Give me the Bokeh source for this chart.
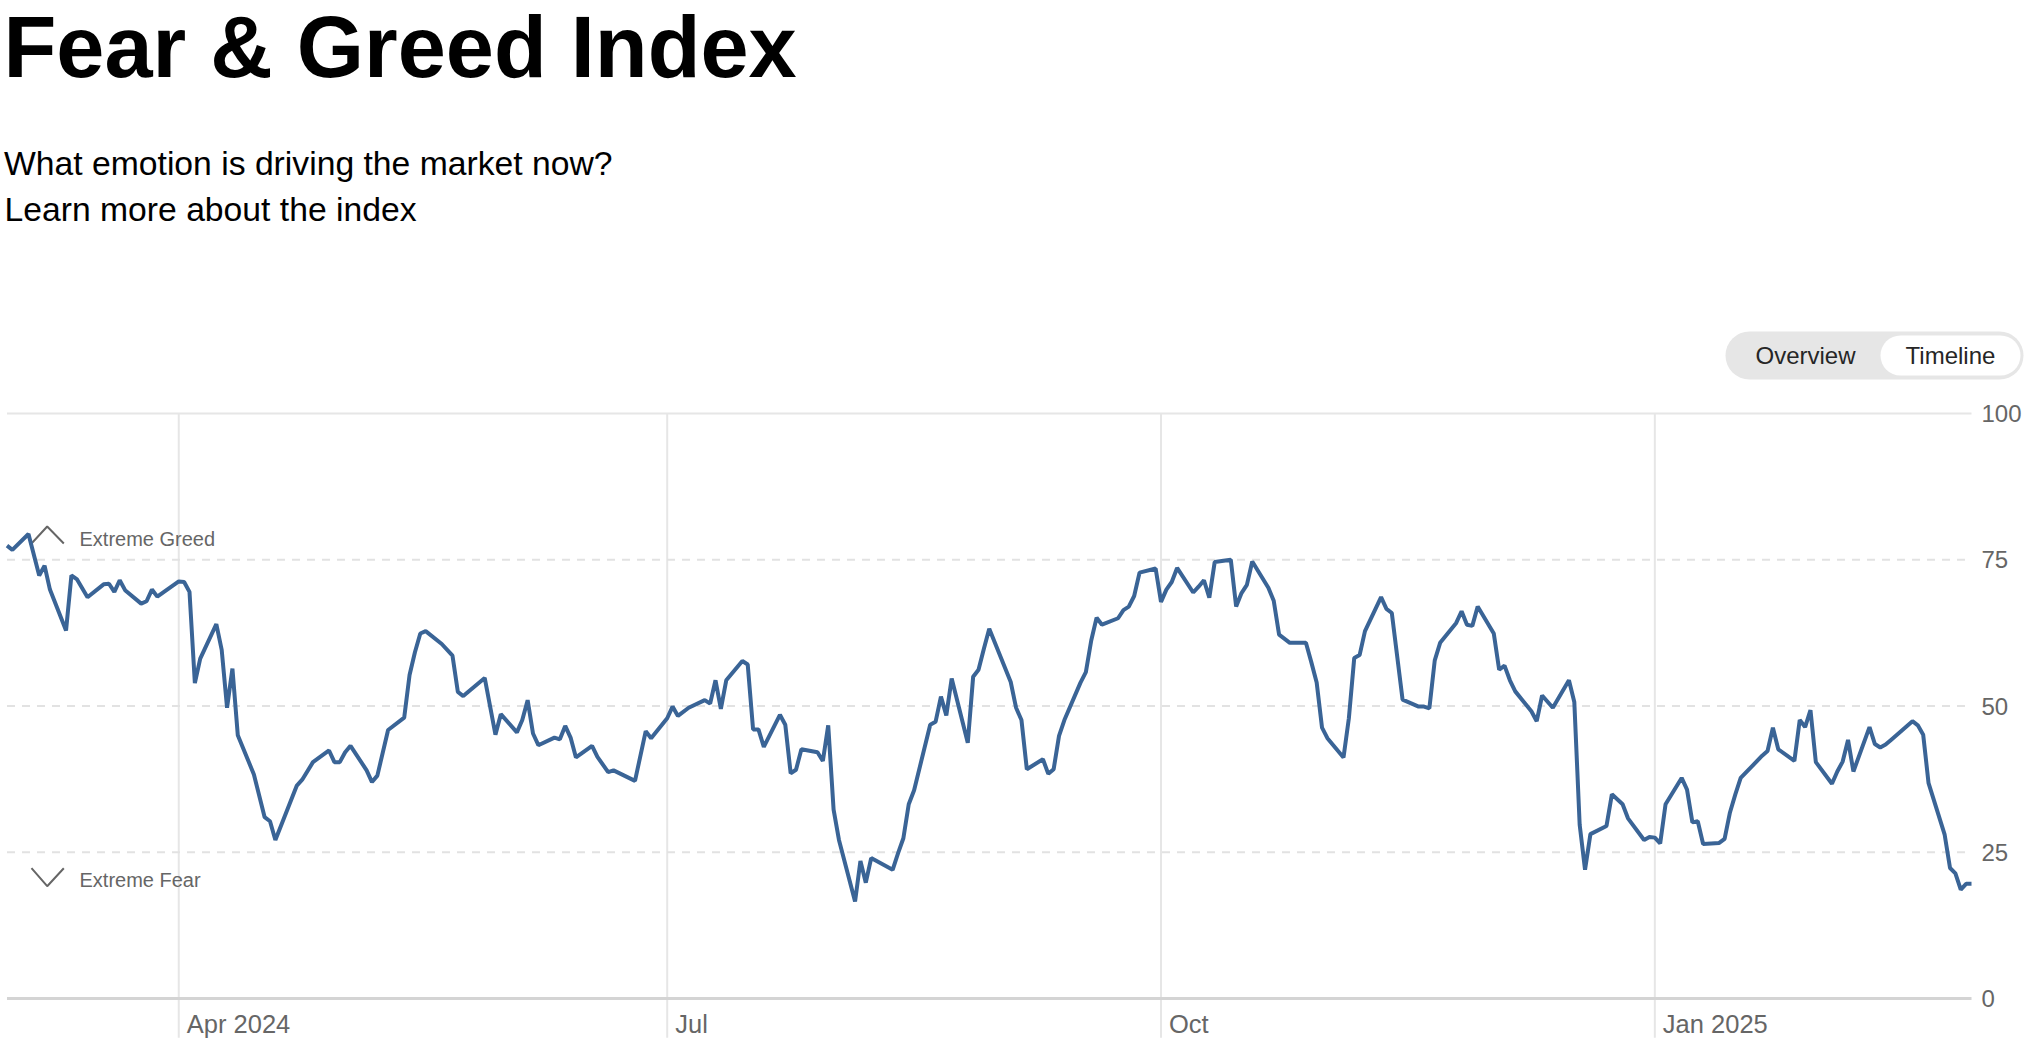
import numpy as np
from bokeh.plotting import figure
from bokeh.models import Range1d, FixedTicker, ColumnDataSource
from bokeh.core.properties import value
from bokeh.embed import file_html
from bokeh.resources import INLINE

# ---------------- data ----------------
dates = [
    "2024-02-29", "2024-03-01", "2024-03-04", "2024-03-06", "2024-03-07", "2024-03-08",
    "2024-03-11", "2024-03-12", "2024-03-13", "2024-03-15", "2024-03-18", "2024-03-19",
    "2024-03-20", "2024-03-21", "2024-03-22", "2024-03-25", "2024-03-26", "2024-03-27",
    "2024-03-28", "2024-04-01", "2024-04-02", "2024-04-03", "2024-04-04", "2024-04-05",
    "2024-04-08", "2024-04-09", "2024-04-10", "2024-04-11", "2024-04-12", "2024-04-15",
    "2024-04-17", "2024-04-18", "2024-04-19", "2024-04-23", "2024-04-24", "2024-04-26",
    "2024-04-29", "2024-04-30", "2024-05-01", "2024-05-02", "2024-05-03", "2024-05-06",
    "2024-05-07", "2024-05-08", "2024-05-10", "2024-05-13", "2024-05-14", "2024-05-15",
    "2024-05-16", "2024-05-17", "2024-05-20", "2024-05-22", "2024-05-23", "2024-05-24",
    "2024-05-28", "2024-05-30", "2024-05-31", "2024-06-03", "2024-06-04", "2024-06-05",
    "2024-06-06", "2024-06-07", "2024-06-10", "2024-06-11", "2024-06-12", "2024-06-13",
    "2024-06-14", "2024-06-17", "2024-06-18", "2024-06-20", "2024-06-21", "2024-06-25",
    "2024-06-27", "2024-06-28", "2024-07-01", "2024-07-02", "2024-07-03", "2024-07-05",
    "2024-07-08", "2024-07-09", "2024-07-10", "2024-07-11", "2024-07-12", "2024-07-15",
    "2024-07-16", "2024-07-17", "2024-07-18", "2024-07-19", "2024-07-22", "2024-07-23",
    "2024-07-24", "2024-07-25", "2024-07-26", "2024-07-29", "2024-07-30", "2024-07-31",
    "2024-08-01", "2024-08-02", "2024-08-05", "2024-08-06", "2024-08-07", "2024-08-08",
    "2024-08-12", "2024-08-13", "2024-08-14", "2024-08-15", "2024-08-16", "2024-08-19",
    "2024-08-20", "2024-08-21", "2024-08-22", "2024-08-23", "2024-08-26", "2024-08-27",
    "2024-08-28", "2024-08-29", "2024-08-30", "2024-09-03", "2024-09-04", "2024-09-05",
    "2024-09-06", "2024-09-09", "2024-09-10", "2024-09-11", "2024-09-12", "2024-09-13",
    "2024-09-16", "2024-09-17", "2024-09-18", "2024-09-19", "2024-09-20", "2024-09-23",
    "2024-09-24", "2024-09-25", "2024-09-26", "2024-09-27", "2024-09-30", "2024-10-01",
    "2024-10-02", "2024-10-03", "2024-10-04", "2024-10-07", "2024-10-08", "2024-10-09",
    "2024-10-10", "2024-10-11", "2024-10-14", "2024-10-15", "2024-10-16", "2024-10-17",
    "2024-10-18", "2024-10-21", "2024-10-22", "2024-10-23", "2024-10-25", "2024-10-28",
    "2024-10-29", "2024-10-30", "2024-10-31", "2024-11-01", "2024-11-04", "2024-11-05",
    "2024-11-06", "2024-11-07", "2024-11-08", "2024-11-11", "2024-11-12", "2024-11-13",
    "2024-11-15", "2024-11-18", "2024-11-19", "2024-11-20", "2024-11-21", "2024-11-22",
    "2024-11-25", "2024-11-26", "2024-11-27", "2024-11-28", "2024-11-29", "2024-12-02",
    "2024-12-03", "2024-12-04", "2024-12-05", "2024-12-06", "2024-12-09", "2024-12-10",
    "2024-12-11", "2024-12-13", "2024-12-16", "2024-12-17", "2024-12-18", "2024-12-19",
    "2024-12-20", "2024-12-23", "2024-12-24", "2024-12-26", "2024-12-27", "2024-12-30",
    "2024-12-31", "2025-01-01", "2025-01-02", "2025-01-03", "2025-01-06", "2025-01-07",
    "2025-01-08", "2025-01-09", "2025-01-10", "2025-01-13", "2025-01-14", "2025-01-15",
    "2025-01-16", "2025-01-17", "2025-01-21", "2025-01-22", "2025-01-23", "2025-01-24",
    "2025-01-27", "2025-01-28", "2025-01-29", "2025-01-30", "2025-01-31", "2025-02-03",
    "2025-02-04", "2025-02-05", "2025-02-06", "2025-02-07", "2025-02-10", "2025-02-11",
    "2025-02-12", "2025-02-13", "2025-02-14", "2025-02-18", "2025-02-19", "2025-02-20",
    "2025-02-21", "2025-02-24", "2025-02-25", "2025-02-26", "2025-02-27", "2025-02-28",
    "2025-03-01",
]
index_values = [
    77.4, 76.7, 79.4, 72.3, 74.0, 69.9,
    62.9, 72.3, 71.7, 68.6, 70.8, 70.9,
    69.5, 71.5, 69.8, 67.5, 67.9, 69.9,
    68.7, 71.3, 71.2, 69.5, 53.9, 58.1,
    64.0, 59.6, 49.7, 56.4, 45.0, 38.3,
    31.0, 30.3, 27.1, 36.4, 37.4, 40.4,
    42.4, 40.4, 40.4, 42.1, 43.2, 39.0,
    37.0, 38.1, 45.9, 48.0, 55.3, 59.2,
    62.4, 62.8, 60.6, 58.6, 52.4, 51.7,
    54.8, 45.1, 48.6, 45.5, 47.6, 51.0,
    45.3, 43.3, 44.6, 44.3, 46.6, 44.6,
    41.2, 43.2, 41.3, 38.7, 39.0, 37.2,
    45.7, 44.5, 47.9, 49.9, 48.3, 49.7,
    51.0, 50.4, 54.4, 49.5, 54.4, 57.7,
    57.1, 46.0, 46.0, 43.0, 48.5, 46.8,
    38.5, 39.1, 42.6, 42.1, 40.6, 46.7,
    32.3, 27.1, 16.6, 23.5, 19.8, 24.0,
    22.0, 24.8, 27.4, 33.2, 35.6, 46.8,
    47.3, 51.6, 48.4, 54.7, 43.7, 55.0,
    56.2, 59.8, 63.2, 54.1, 49.7, 47.6,
    39.2, 40.9, 38.4, 39.2, 44.9, 47.6,
    54.0, 55.8, 61.2, 65.1, 63.9, 65.0,
    66.4, 67.0, 68.8, 72.8, 73.5, 67.8,
    69.9, 71.2, 73.6, 69.4, 70.4, 71.5,
    68.5, 74.6, 75.0, 67.0, 69.3, 70.7,
    74.7, 70.2, 68.0, 62.2, 60.8, 60.8,
    57.5, 54.0, 46.3, 44.5, 41.2, 47.9,
    58.2, 58.7, 62.8, 68.6, 66.6, 65.9,
    51.1, 49.9, 49.9, 49.6, 57.8, 60.8,
    64.2, 66.2, 63.9, 63.7, 67.0, 62.4,
    56.2, 56.9, 54.4, 52.5, 49.1, 47.4,
    51.8, 49.7, 54.4, 50.7, 29.7, 22.0,
    28.1, 29.5, 34.9, 33.2, 30.8, 27.1,
    27.6, 27.5, 26.5, 33.2, 37.7, 35.7,
    30.1, 30.3, 26.4, 26.6, 27.3, 31.8,
    34.9, 37.7, 41.5, 42.3, 46.3, 42.6,
    40.6, 47.6, 46.4, 49.3, 40.4, 36.7,
    38.8, 40.5, 44.2, 38.8, 46.4, 43.5,
    42.9, 43.4, 44.2, 47.4, 46.7, 45.1,
    36.8, 28.0, 22.3, 21.4, 18.6, 19.6,
    19.6,
]
tick_dates = ["2024-04-01", "2024-07-01", "2024-10-01", "2025-01-01"]
tick_labels = ["Apr 2024", "Jul", "Oct", "Jan 2025"]
y_ticks = [0, 25, 50, 75, 100]
grid_levels = [25, 50, 75]
zone_labels = ["Extreme Greed", "Extreme Fear"]

title_text = "Fear & Greed Index"
subtitle_lines = ["What emotion is driving the market now?", "Learn more about the index"]
toggle_labels = ["Overview", "Timeline"]

# ---------------- layout constants (page pixels) ----------------
W, H = 2032, 1044
CHART_LEFT, CHART_RIGHT = 6.5, 1971.0     # first / last date positions
Y100_PX, Y0_PX = 413.0, 998.0             # pixel rows of 100 and 0
FONT = "Liberation Sans"
LINE_BLUE = "#3a6496"
GRAY_TXT = "#666666"
GRID = "#e6e6e6"

def to_ms(seq):
    return np.array(seq, dtype="datetime64[ms]").astype("int64").astype(float)

x = to_ms(dates)
tick_ms = to_ms(tick_dates)
x_first, x_last = x[0], x[-1]

ms_per_px = (x_last - x_first) / (CHART_RIGHT - CHART_LEFT)
u_per_px = 100.0 / (Y0_PX - Y100_PX)
x_range = Range1d(x_first - CHART_LEFT * ms_per_px, x_first + (W - CHART_LEFT) * ms_per_px)
y_range = Range1d(-(H - Y0_PX) * u_per_px, 100 + Y100_PX * u_per_px)

p = figure(width=W, height=H, x_range=x_range, y_range=y_range,
           output_backend="svg", toolbar_location=None,
           x_axis_location=None, y_axis_location="right", min_border=0)
p.outline_line_color = None
p.background_fill_color = "white"
p.border_fill_color = "white"
p.grid.visible = False
# page-pixel ranges for the page furniture (header, toggle, zone chevrons)
p.extra_x_ranges = {"px": Range1d(0, W)}
p.extra_y_ranges = {"py": Range1d(H, 0)}

# ---------------- y axis (drawn at the right end of the series) ----------------
yax = p.yaxis[0]
yax.fixed_location = x_last
yax.ticker = FixedTicker(ticks=y_ticks)
yax.axis_line_color = None
yax.major_tick_line_color = None
yax.minor_tick_line_color = None
yax.major_tick_out = 0
yax.major_tick_in = 0
yax.major_label_standoff = 10
yax.major_label_text_font = FONT
yax.major_label_text_font_size = "24px"
yax.major_label_text_color = GRAY_TXT

# ---------------- grid / frame lines ----------------
tick_bottom = -6.7
p.segment(x0=tick_ms, y0=[100] * len(tick_ms), x1=tick_ms, y1=[tick_bottom] * len(tick_ms),
          line_color=GRID, line_width=2)
p.segment(x0=[x_first] * len(grid_levels), y0=grid_levels,
          x1=[x_last] * len(grid_levels), y1=grid_levels,
          line_color="#e2e2e2", line_width=2, line_dash="8 7")
p.segment(x0=[x_first], y0=[y_ticks[-1]], x1=[x_last], y1=[y_ticks[-1]],
          line_color=GRID, line_width=2)
p.segment(x0=[x_first], y0=[y_ticks[0]], x1=[x_last], y1=[y_ticks[0]],
          line_color="#d4d4d4", line_width=3)

# x tick labels to the right of each month line
lab_src = ColumnDataSource(dict(x=tick_ms, y=np.full(len(tick_ms), -4.3), text=tick_labels))
p.text(x="x", y="y", text="text", source=lab_src, x_offset=8,
       text_font=value(FONT), text_font_size="25.5px", text_color=GRAY_TXT,
       text_align="left", text_baseline="middle")

# ---------------- zone markers ----------------
p.multi_line(xs=[[31, 46.7, 63.3], [31, 46.7, 63.3]], ys=[[543, 526, 543], [867.7, 885.7, 867.7]],
             line_color=GRAY_TXT, line_width=2, x_range_name="px", y_range_name="py")
p.text(x=[x_first, x_first], y=[78.6, 20.2], text=zone_labels, x_offset=72.5,
       text_font=value(FONT), text_font_size="20px", text_color=GRAY_TXT,
       text_align="left", text_baseline="middle")

# ---------------- the index line ----------------
p.line(x, index_values, line_color=LINE_BLUE, line_width=4)

# ---------------- header ----------------
p.text(x=[3], y=[46.5], text=[title_text], text_font=value(FONT),
       text_font_size="86.5px", text_font_style="bold", text_color="#000000",
       text_baseline="middle", text_align="left", x_range_name="px", y_range_name="py")
p.text(x=[3.5, 4], y=[162, 208.5], text=subtitle_lines,
       text_font=value(FONT), text_font_size="33.7px", text_color="#000000",
       text_baseline="middle", text_align="left", x_range_name="px", y_range_name="py")

# toggle pill
p.segment(x0=[1749], y0=[355], x1=[1999], y1=[355], line_width=48,
          line_cap="round", line_color="#e6e6e6", x_range_name="px", y_range_name="py")
p.segment(x0=[1900], y0=[355], x1=[2000], y1=[355], line_width=40,
          line_cap="round", line_color="#ffffff", x_range_name="px", y_range_name="py")
p.text(x=[1805, 1950], y=[354.5, 354.5], text=toggle_labels,
       text_font=value(FONT), text_font_size="24px", text_color="#262626",
       text_align="center", text_baseline="middle", x_range_name="px", y_range_name="py")

open("out.html", "w").write(file_html(p, INLINE))
